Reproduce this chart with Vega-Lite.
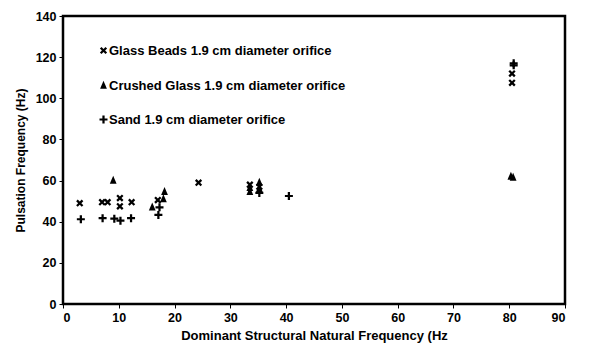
{
  "$schema": "https://vega.github.io/schema/vega-lite/v6.json",
  "autosize": "none",
  "width": 502,
  "height": 288,
  "padding": {"left": 63, "top": 16, "right": 24, "bottom": 47},
  "background": "white",
  "config": {
    "view": {"stroke": "black", "strokeWidth": 2.5},
    "font": "Liberation Sans",
    "axis": {
      "grid": false,
      "domain": false,
      "tickColor": "black",
      "tickSize": 4,
      "tickWidth": 1,
      "labelFont": "Liberation Sans",
      "labelFontWeight": "bold",
      "labelFontSize": 12.5,
      "labelColor": "black",
      "titleFont": "Liberation Sans",
      "titleFontWeight": "bold",
      "titleColor": "black"
    }
  },
  "data": {
    "values": [
      {"series": "Glass Beads 1.9 cm diameter orifice", "x": 3, "y": 49},
      {"series": "Glass Beads 1.9 cm diameter orifice", "x": 7, "y": 49.5},
      {"series": "Glass Beads 1.9 cm diameter orifice", "x": 8, "y": 49.5},
      {"series": "Glass Beads 1.9 cm diameter orifice", "x": 10.2, "y": 51.5},
      {"series": "Glass Beads 1.9 cm diameter orifice", "x": 10.2, "y": 47.5},
      {"series": "Glass Beads 1.9 cm diameter orifice", "x": 12.3, "y": 49.5},
      {"series": "Glass Beads 1.9 cm diameter orifice", "x": 17, "y": 50.5},
      {"series": "Glass Beads 1.9 cm diameter orifice", "x": 24.3, "y": 59},
      {"series": "Glass Beads 1.9 cm diameter orifice", "x": 33.5, "y": 58},
      {"series": "Glass Beads 1.9 cm diameter orifice", "x": 35.2, "y": 57},
      {"series": "Glass Beads 1.9 cm diameter orifice", "x": 80.5, "y": 112},
      {"series": "Glass Beads 1.9 cm diameter orifice", "x": 80.5, "y": 107.5},
      {"series": "Crushed Glass  1.9 cm diameter orifice", "x": 9, "y": 60},
      {"series": "Crushed Glass  1.9 cm diameter orifice", "x": 16, "y": 47},
      {"series": "Crushed Glass  1.9 cm diameter orifice", "x": 18, "y": 51},
      {"series": "Crushed Glass  1.9 cm diameter orifice", "x": 18.2, "y": 54.5},
      {"series": "Crushed Glass  1.9 cm diameter orifice", "x": 33.5, "y": 54.5},
      {"series": "Crushed Glass  1.9 cm diameter orifice", "x": 33.5, "y": 56.5},
      {"series": "Crushed Glass  1.9 cm diameter orifice", "x": 35.2, "y": 56},
      {"series": "Crushed Glass  1.9 cm diameter orifice", "x": 35.2, "y": 59},
      {"series": "Crushed Glass  1.9 cm diameter orifice", "x": 80.3, "y": 62},
      {"series": "Crushed Glass  1.9 cm diameter orifice", "x": 80.7, "y": 61.5},
      {"series": "Sand 1.9 cm diameter orifice", "x": 3.2, "y": 41.2},
      {"series": "Sand 1.9 cm diameter orifice", "x": 7.1, "y": 41.7},
      {"series": "Sand 1.9 cm diameter orifice", "x": 9.2, "y": 41.5},
      {"series": "Sand 1.9 cm diameter orifice", "x": 10.3, "y": 40.5},
      {"series": "Sand 1.9 cm diameter orifice", "x": 12.2, "y": 41.7},
      {"series": "Sand 1.9 cm diameter orifice", "x": 17.1, "y": 43.3},
      {"series": "Sand 1.9 cm diameter orifice", "x": 17.3, "y": 47},
      {"series": "Sand 1.9 cm diameter orifice", "x": 35.2, "y": 54},
      {"series": "Sand 1.9 cm diameter orifice", "x": 40.5, "y": 52.5},
      {"series": "Sand 1.9 cm diameter orifice", "x": 80.8, "y": 117},
      {"series": "Sand 1.9 cm diameter orifice", "x": 80.8, "y": 116}
    ]
  },
  "mark": {"type": "point", "filled": true, "opacity": 1, "color": "black", "size": 64},
  "encoding": {
    "x": {
      "field": "x",
      "type": "quantitative",
      "title": "Dominant Structural Natural Frequency (Hz",
      "scale": {"domain": [0, 90], "nice": false},
      "axis": {"values": [0, 10, 20, 30, 40, 50, 60, 70, 80, 90], "labelPadding": 3, "titlePadding": 6, "titleFontSize": 13}
    },
    "y": {
      "field": "y",
      "type": "quantitative",
      "title": "Pulsation Frequency (Hz)",
      "scale": {"domain": [0, 140], "nice": false},
      "axis": {"values": [0, 20, 40, 60, 80, 100, 120, 140], "labelPadding": 3, "titlePadding": 8, "titleFontSize": 12}
    },
    "shape": {
      "field": "series",
      "type": "nominal",
      "scale": {
        "domain": ["Glass Beads 1.9 cm diameter orifice", "Crushed Glass  1.9 cm diameter orifice", "Sand 1.9 cm diameter orifice"],
        "range": [
          "M-0.9,-0.5L-0.5,-0.9L0,-0.4L0.5,-0.9L0.9,-0.5L0.4,0L0.9,0.5L0.5,0.9L0,0.4L-0.5,0.9L-0.9,0.5L-0.4,0Z",
          "M0,-1.2L0.85,0.8L-0.85,0.8Z",
          "M-1,-0.28H1V0.28H-1Z M-0.28,-1H0.28V1H-0.28Z"
        ]
      },
      "legend": {
        "orient": "none",
        "legendX": 34,
        "legendY": 28,
        "title": null,
        "symbolFillColor": "black",
        "symbolStrokeColor": "black",
        "symbolSize": 64,
        "labelFont": "Liberation Sans",
        "labelFontWeight": "bold",
        "labelFontSize": 13,
        "labelColor": "black",
        "labelOffset": -1,
        "labelLimit": 400,
        "rowPadding": 19
      }
    }
  }
}
